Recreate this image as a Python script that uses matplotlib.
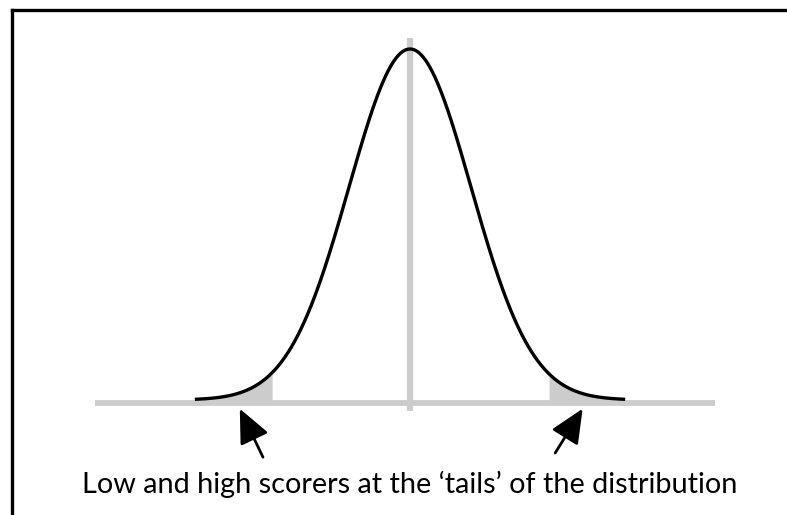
import numpy as np
import matplotlib
matplotlib.use("Agg")
import matplotlib.pyplot as plt
from matplotlib.lines import Line2D

# Data: standard normal curve (z-scores) and shaded tail regions
z_range = (-3.5, 3.5)
left_tail = (-3.5, -2.26)
right_tail = (2.28, 3.5)
baseline_range = (-5.16, 5.0)
center_line = (0.0, 1.03, -0.03)   # x, top, bottom (relative density)
caption = "Low and high scorers at the \u2018tails\u2019 of the distribution"
arrows = [((-2.79, -0.025), (-2.41, -0.163)),   # (tip, tail)
          ((2.83, -0.025), (2.38, -0.151))]

def pdf(z):
    return np.exp(-0.5 * z ** 2)

W, H = 787, 515
fig = plt.figure(figsize=(W / 100, H / 100), dpi=100)
ax = fig.add_axes([0, 0, 1, 1])
cx, sig = 410.0, 61.0
by, ht = 400.0, 351.0
ax.set_xlim(-cx / sig, (W - cx) / sig)
ax.set_ylim((by - H) / ht, by / ht)
ax.axis("off")

gray = "#cccccc"
# baseline
ax.plot(baseline_range, [-0.008, -0.008], color=gray, lw=4.2, solid_capstyle="butt", zorder=1)
# vertical center line
ax.plot([center_line[0]] * 2, [center_line[2], center_line[1]], color=gray, lw=4.5,
        solid_capstyle="butt", zorder=1)

# shaded tails
for a, b in (left_tail, right_tail):
    zz = np.linspace(a, b, 200)
    ax.fill_between(zz, 0, pdf(zz), color=gray, lw=0, zorder=2)

# curve
zz = np.linspace(*z_range, 800)
ax.plot(zz, pdf(zz), color="black", lw=2.4, zorder=3)

# arrows
for tip, tail in arrows:
    ax.annotate("", xy=tip, xytext=tail,
                arrowprops=dict(arrowstyle="-|>,head_length=2.1,head_width=0.95",
                                color="black", lw=2.0, shrinkA=0, shrinkB=0),
                zorder=4)

# caption
fig.text(410 / W, 1 - 493 / H, caption, ha="center", va="baseline",
         fontsize=20.8, family="Lato", color="black")

# frame (top and left)
fig.add_artist(Line2D([11.5 / W, 1], [1 - 9.5 / H] * 2, color="black", lw=2.4,
                      transform=fig.transFigure))
fig.add_artist(Line2D([11.5 / W] * 2, [0, 1 - 9.5 / H], color="black", lw=2.4,
                      transform=fig.transFigure))

fig.savefig("out.png", dpi=100)
